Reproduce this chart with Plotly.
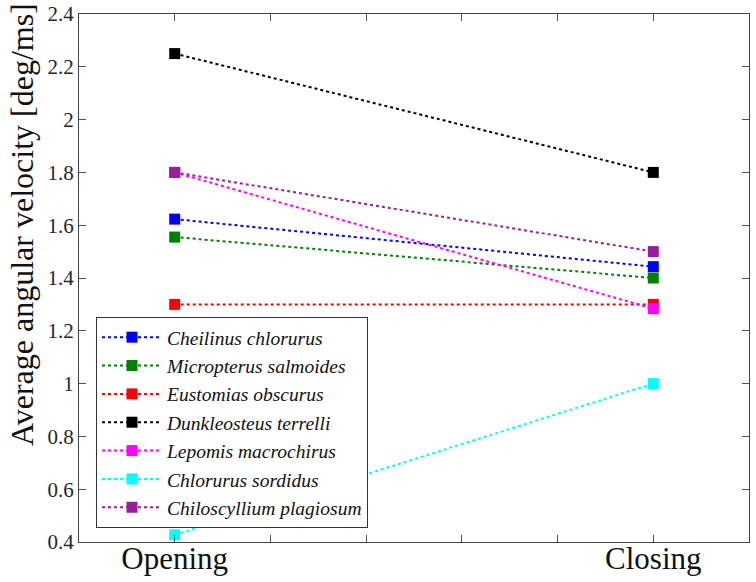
import plotly.graph_objects as go

phases = ["Opening", "Closing"]
phase_pos = [1, 2]
species = ["Cheilinus chlorurus", "Micropterus salmoides", "Eustomias obscurus",
           "Dunkleosteus terrelli", "Lepomis macrochirus", "Chlorurus sordidus",
           "Chiloscyllium plagiosum"]
opening = [1.623, 1.555, 1.30, 2.25, 1.80, 0.427, 1.80]
closing = [1.443, 1.40, 1.30, 1.80, 1.284, 1.00, 1.50]
colors = ["#0000FF", "#008000", "#FF0000", "#000000", "#FF00FF", "#00FFFF", "#9B1D9B"]
y_ticks = [0.4, 0.6, 0.8, 1.0, 1.2, 1.4, 1.6, 1.8, 2.0, 2.2, 2.4]
y_ticktext = ["0.4", "0.6", "0.8", "1", "1.2", "1.4", "1.6", "1.8", "2", "2.2", "2.4"]
x_ticks = [1, 1.2, 1.4, 1.6, 1.8, 2]
x_ticktext = ["Opening", "", "", "", "", "Closing"]
y_title = "Average angular velocity [deg/ms]"

FONT = "Liberation Serif, Times New Roman, Times, serif"
fig = go.Figure()
for name, o, c, col in zip(species, opening, closing, colors):
    fig.add_trace(go.Scatter(
        x=phase_pos, y=[o, c], mode="lines+markers", name=name,
        line=dict(color=col, width=2, dash="dot"),
        marker=dict(symbol="square", size=11, color=col),
        cliponaxis=False,
    ))

W, H = 756, 582
ml, mr, mt, mb = 79, 7, 14, 40
pw, ph = W - ml - mr, H - mt - mb
fig.update_layout(
    width=W, height=H,
    margin=dict(l=ml, r=mr, t=mt, b=mb, autoexpand=False),
    paper_bgcolor="white", plot_bgcolor="white",
    font=dict(family=FONT, color="#262626"),
    xaxis=dict(range=[0.8, 2.2], tickvals=x_ticks, ticktext=x_ticktext,
               ticks="inside", ticklen=7, tickcolor="#555555", automargin=False,
               ticklabelstandoff=-11,
               showline=True, linecolor="#444444", linewidth=1.3, mirror="ticks",
               showgrid=False, zeroline=False,
               tickfont=dict(family=FONT, size=31, color="#111111")),
    yaxis=dict(range=[0.4, 2.4], tickvals=y_ticks, ticktext=y_ticktext,
               ticks="inside", ticklen=7, tickcolor="#555555", automargin=False,
               showline=True, linecolor="#444444", linewidth=1.3, mirror="ticks",
               showgrid=False, zeroline=False,
               tickfont=dict(family=FONT, size=21, color="#262626")),
    legend=dict(x=(96 - ml) / pw, y=(542 - 317) / ph, xanchor="left", yanchor="top",
                bgcolor="white", bordercolor="#333333", borderwidth=1,
                itemwidth=60,
                font=dict(family=FONT, size=19.5, color="#111111", style="italic"),
                traceorder="normal"),
    showlegend=True,
    annotations=[dict(text=y_title, textangle=-90, xref="paper", yref="paper",
                      x=(22 - ml) / pw, y=(542 - 225) / ph, xanchor="center", yanchor="middle",
                      showarrow=False, font=dict(family=FONT, size=32, color="#111111"))],
)
fig.write_html("out.html")
